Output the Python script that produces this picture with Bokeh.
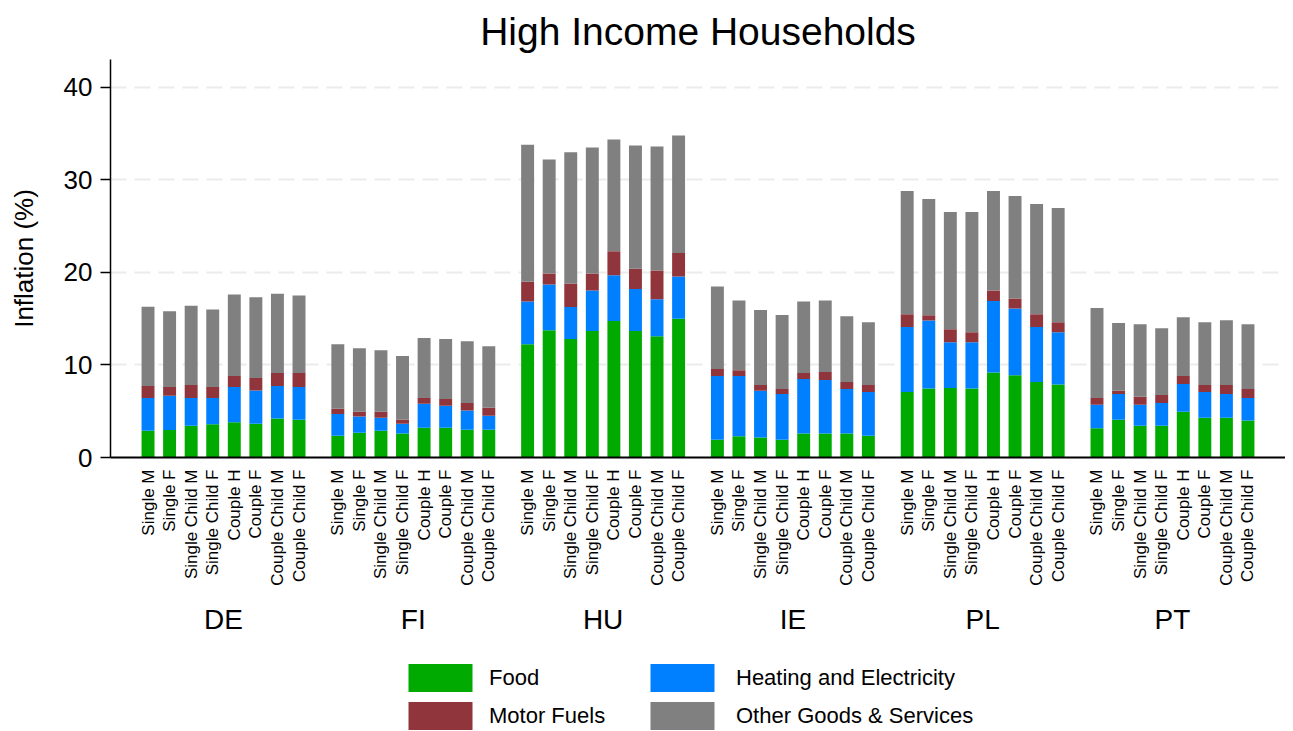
import math
from bokeh.plotting import figure
from bokeh.layouts import column
from bokeh.models import (FactorRange, Range1d, Legend, LegendItem, FixedTicker,
                          ColumnDataSource)
from bokeh.embed import file_html
from bokeh.resources import INLINE

countries = ["DE", "FI", "HU", "IE", "PL", "PT"]
households = ["Single M", "Single F", "Single Child M", "Single Child F",
              "Couple H", "Couple F", "Couple Child M", "Couple Child F"]

# contributions (percentage points), 8 households per country, in order of countries
food = [2.90, 2.97, 3.44, 3.58, 3.80, 3.65, 4.22, 4.08,
        2.36, 2.68, 2.90, 2.58, 3.22, 3.22, 3.00, 3.00,
        12.24, 13.75, 12.80, 13.67, 14.75, 13.67, 13.10, 15.00,
        1.93, 2.29, 2.15, 1.93, 2.58, 2.58, 2.58, 2.36,
        7.09, 7.45, 7.52, 7.45, 9.17, 8.88, 8.16, 7.88,
        3.15, 4.08, 3.44, 3.44, 4.94, 4.30, 4.30, 4.01]
heating = [3.54, 3.69, 3.00, 2.86, 3.83, 3.58, 3.51, 3.55,
           2.33, 1.76, 1.40, 1.07, 2.58, 2.36, 2.08, 1.51,
           4.62, 4.95, 3.45, 4.37, 4.95, 4.53, 4.00, 4.55,
           6.87, 6.51, 5.05, 4.94, 5.91, 5.80, 4.83, 4.73,
           7.01, 7.35, 4.94, 5.01, 7.73, 7.22, 5.94, 5.65,
           2.54, 2.79, 2.25, 2.46, 3.01, 2.79, 2.57, 2.43]
motor = [1.29, 0.97, 1.40, 1.19, 1.18, 1.36, 1.40, 1.50,
         0.57, 0.50, 0.64, 0.43, 0.64, 0.75, 0.82, 0.86,
         2.14, 1.17, 2.55, 1.83, 2.57, 2.20, 3.10, 2.55,
         0.76, 0.62, 0.64, 0.54, 0.64, 0.86, 0.75, 0.75,
         1.37, 0.56, 1.40, 1.07, 1.14, 1.08, 1.37, 1.07,
         0.75, 0.33, 0.86, 0.86, 0.86, 0.75, 0.97, 0.97]
other = [8.57, 8.17, 8.56, 8.37, 8.79, 8.71, 8.57, 8.37,
         6.98, 6.86, 6.66, 6.88, 6.46, 6.47, 6.67, 6.66,
         14.80, 12.33, 14.17, 13.63, 12.10, 13.30, 13.40, 12.70,
         8.91, 7.55, 8.09, 7.99, 7.73, 7.73, 7.09, 6.76,
         13.33, 12.57, 12.67, 13.00, 10.76, 11.07, 11.92, 12.36,
         9.71, 7.34, 7.85, 7.20, 6.34, 6.76, 6.98, 6.99]

series = ["food", "heating", "motor", "other"]
series_labels = ["Food", "Heating and Electricity", "Motor Fuels", "Other Goods & Services"]
colors = ["#00aa00", "#0080ff", "#90353b", "#808080"]
y_ticks = [0, 10, 20, 30, 40]

FONT = "Liberation Sans"

# two leading no-break spaces only add room between the rotated labels and the country labels
factors = [(c, "\u00a0\u00a0" + h) for c in countries for h in households]
source = ColumnDataSource(dict(x=factors, food=food, heating=heating,
                               motor=motor, other=other))

x_range = FactorRange(*factors, factor_padding=0, group_padding=0.8,
                      range_padding=1.24, range_padding_units="absolute")

p = figure(x_range=x_range, y_range=Range1d(0, 43), width=1285, height=650,
           output_backend="svg", toolbar_location=None,
           title="High Income Households",
           min_border_left=110, min_border_right=0, min_border_top=57,
           min_border_bottom=193)

rs = p.vbar_stack(series, x="x", width=0.6, fill_color=colors,
                  line_color=None, source=source)

# title
p.title.align = "center"
p.title.text_font = FONT
p.title.text_font_size = "39px"
p.title.text_font_style = "normal"
p.title.text_color = "black"
p.title.standoff = 14

p.outline_line_color = None
p.background_fill_color = "white"

# x axis
xa = p.xaxis[0]
xa.major_label_orientation = math.pi / 2
xa.group_label_orientation = "horizontal"
xa.major_label_text_font = FONT
xa.major_label_text_font_size = "17px"
xa.major_label_text_color = "black"
xa.group_text_font = FONT
xa.group_text_font_size = "28px"
xa.group_text_font_style = "normal"
xa.group_text_color = "black"
xa.separator_line_color = None
xa.major_tick_line_color = None
xa.minor_tick_line_color = None
xa.axis_line_width = 2
xa.axis_line_color = "black"
xa.major_label_standoff = 6

# y axis
ya = p.yaxis[0]
ya.ticker = FixedTicker(ticks=y_ticks)
ya.major_label_text_font = FONT
ya.major_label_text_font_size = "26px"
ya.major_label_text_color = "black"
ya.axis_label = "Inflation (%)"
ya.axis_label_text_font = FONT
ya.axis_label_text_font_size = "26px"
ya.axis_label_text_font_style = "normal"
ya.axis_label_text_color = "black"
ya.axis_label_standoff = 22
ya.major_tick_out = 10
ya.major_tick_in = 0
ya.major_label_standoff = 8
ya.minor_tick_line_color = None
ya.axis_line_width = 1.5
ya.axis_line_color = "black"
ya.major_tick_line_width = 1.5

p.xgrid.grid_line_color = None
p.ygrid.grid_line_color = "#ebebeb"
p.ygrid.grid_line_width = 2
p.ygrid.grid_line_dash = "16 8"

# legend panel below the chart (its bars lie outside its visible y range)
p2 = figure(width=1285, height=80, x_range=p.x_range, y_range=Range1d(100, 101),
            output_backend="svg", toolbar_location=None, min_border=0,
            x_axis_type=None, y_axis_type=None)
p2.outline_line_color = None
p2.background_fill_color = "white"
lr = p2.vbar_stack(series, x="x", width=0.6, fill_color=colors,
                   line_color=None, source=source)

legend_kw = dict(orientation="vertical", glyph_width=80, glyph_height=35,
                 spacing=3,
                 label_text_font=FONT, label_text_font_size="22px",
                 label_text_color="black", border_line_color=None,
                 background_fill_alpha=0, padding=0, margin=0)
leg1 = Legend(items=[LegendItem(label=series_labels[0], renderers=[lr[0]]),
                     LegendItem(label=series_labels[2], renderers=[lr[2]])],
              location=(290, -3), label_standoff=9, **legend_kw)
leg2 = Legend(items=[LegendItem(label=series_labels[1], renderers=[lr[1]]),
                     LegendItem(label=series_labels[3], renderers=[lr[3]])],
              location=(532, -3), label_standoff=14, **legend_kw)
p2.add_layout(leg1)
p2.add_layout(leg2)

open("out.html", "w").write(file_html(column(p, p2, spacing=0), INLINE))
